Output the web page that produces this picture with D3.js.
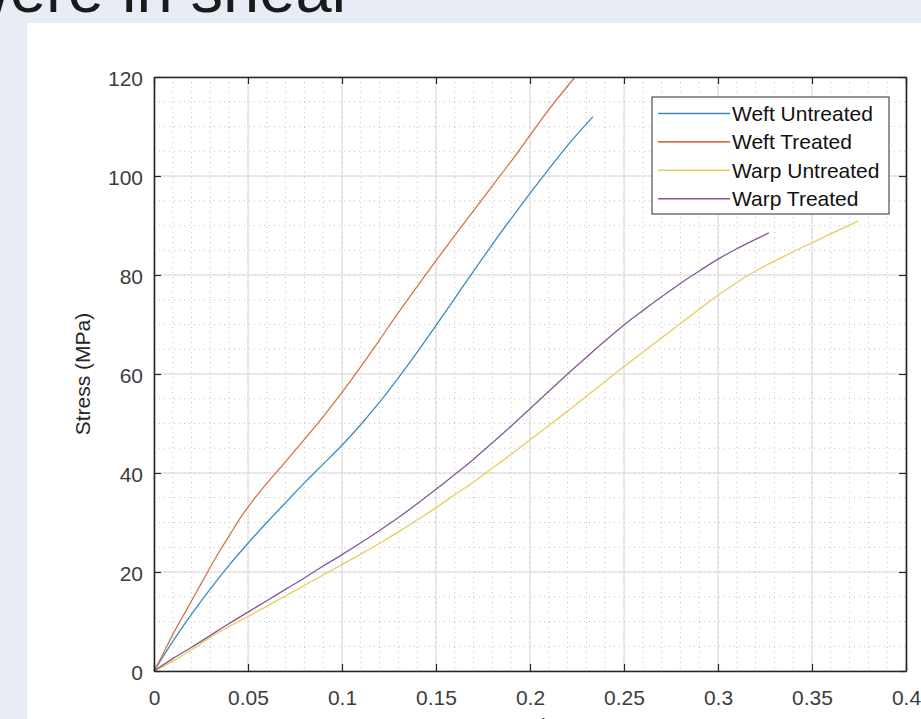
<!DOCTYPE html>
<html>
<head>
<meta charset="utf-8">
<script src="https://cdn.jsdelivr.net/npm/d3@7"></script>
<style>
  html, body { margin: 0; padding: 0; background: #e8ecf5; overflow: hidden; }
  svg { display: block; }
</style>
</head>
<body>
<svg id="chart" width="921" height="719"></svg>
<script>
// tick values
const xTicks = [0, 0.05, 0.1, 0.15, 0.2, 0.25, 0.3, 0.35, 0.4];
const yTicks = [0, 20, 40, 60, 80, 100, 120];
const xMinor = d3.range(0, 0.4001, 0.01);
const yMinor = d3.range(0, 120.01, 5);

// series names (legend order)
const seriesNames = ["Weft Untreated", "Weft Treated", "Warp Untreated", "Warp Treated"];
const seriesColors = ["#3f8bbd", "#d8714a", "#e8cd5a", "#83589a"];

// values: [strain, stress (MPa)]
const weftUntreated = [[0,0],[0.01,6],[0.02,11.5],[0.03,16.6],[0.04,21.4],[0.05,25.8],[0.06,30],[0.07,34],
  [0.08,38],[0.09,41.8],[0.1,45.6],[0.11,49.8],[0.12,54.3],[0.13,59.2],[0.14,64.4],[0.15,69.8],[0.16,75.3],
  [0.17,80.8],[0.18,86.2],[0.19,91.4],[0.2,96.5],[0.21,101.4],[0.22,106.2],[0.2335,112]];
const weftTreated = [[0,0],[0.005,3.6],[0.01,7.4],[0.015,10.8],[0.02,14.2],[0.025,17.6],[0.03,21],[0.035,24.3],
  [0.04,27.3],[0.045,30.4],[0.05,33.1],[0.055,35.6],[0.06,37.9],[0.07,42.3],[0.08,46.8],[0.09,51.4],[0.1,56.3],
  [0.11,61.5],[0.12,66.9],[0.13,72.4],[0.14,77.7],[0.15,82.9],[0.16,88],[0.17,93],[0.18,98],[0.19,103],
  [0.2,108.2],[0.21,113.4],[0.2235,119.8]];
const warpUntreated = [[0,0],[0.01,2],[0.02,4.3],[0.03,6.8],[0.04,9],[0.05,11],[0.06,13.1],[0.07,15.2],
  [0.08,17.3],[0.09,19.4],[0.1,21.5],[0.11,23.6],[0.12,25.8],[0.13,28.1],[0.14,30.5],[0.15,33],[0.16,35.6],
  [0.17,38.2],[0.18,41],[0.19,43.8],[0.2,46.7],[0.21,49.6],[0.22,52.5],[0.23,55.5],[0.24,58.5],[0.25,61.5],
  [0.26,64.4],[0.27,67.3],[0.28,70.2],[0.29,73.1],[0.3,75.9],[0.31,78.5],[0.32,80.8],[0.33,82.8],[0.34,84.7],
  [0.35,86.5],[0.36,88.3],[0.3745,90.9]];
const warpTreated = [[0,0],[0.01,2.5],[0.02,4.8],[0.03,7.2],[0.04,9.6],[0.05,11.9],[0.06,14.2],[0.07,16.5],
  [0.08,18.8],[0.09,21.2],[0.1,23.5],[0.11,25.9],[0.12,28.4],[0.13,31],[0.14,33.8],[0.15,36.7],[0.16,39.7],
  [0.17,42.8],[0.18,46.1],[0.19,49.5],[0.2,53],[0.21,56.5],[0.22,60],[0.23,63.4],[0.24,66.7],[0.25,69.9],
  [0.26,72.8],[0.27,75.6],[0.28,78.3],[0.29,80.8],[0.3,83.2],[0.31,85.3],[0.32,87.2],[0.327,88.5]];

const allSeries = [weftUntreated, weftTreated, warpUntreated, warpTreated];

const svg = d3.select("#chart");
const plotLeft = 154, plotRight = 906, plotTop = 77, plotBottom = 671;

const x = d3.scaleLinear().domain([0, 0.4]).range([plotLeft, plotRight]);
const y = d3.scaleLinear().domain([0, 120]).range([plotBottom, plotTop]);

// slide title, cut by the top edge
svg.append("text")
  .attr("x", -37).attr("y", 12)
  .attr("font-family", "Liberation Sans, Arial, sans-serif")
  .attr("font-size", 65)
  .attr("fill", "#1a1a1a")
  .text("were in shear");

// white panel
svg.append("rect")
  .attr("x", 27).attr("y", 23)
  .attr("width", 921 - 27).attr("height", 719 - 23)
  .attr("fill", "#ffffff");

// minor grid (dotted)
const grid = svg.append("g");
grid.selectAll(".mx").data(xMinor).join("line")
  .attr("x1", d => x(d)).attr("x2", d => x(d))
  .attr("y1", plotTop).attr("y2", plotBottom)
  .attr("stroke", "#c4c4c4").attr("stroke-width", 1)
  .attr("stroke-dasharray", "1,4");
grid.selectAll(".my").data(yMinor).join("line")
  .attr("y1", d => y(d)).attr("y2", d => y(d))
  .attr("x1", plotLeft).attr("x2", plotRight)
  .attr("stroke", "#c4c4c4").attr("stroke-width", 1)
  .attr("stroke-dasharray", "1,4");

// major grid
grid.selectAll(".gx").data(xTicks).join("line")
  .attr("x1", d => x(d)).attr("x2", d => x(d))
  .attr("y1", plotTop).attr("y2", plotBottom)
  .attr("stroke", "#d8d8d8").attr("stroke-width", 1);
grid.selectAll(".gy").data(yTicks).join("line")
  .attr("y1", d => y(d)).attr("y2", d => y(d))
  .attr("x1", plotLeft).attr("x2", plotRight)
  .attr("stroke", "#d8d8d8").attr("stroke-width", 1);

// curves
const line = d3.line()
  .x(d => x(d[0]))
  .y(d => y(d[1]))
  .curve(d3.curveCatmullRom.alpha(0.5));

svg.append("g").selectAll("path")
  .data(allSeries)
  .join("path")
  .attr("d", line)
  .attr("fill", "none")
  .attr("stroke", (d, i) => seriesColors[i])
  .attr("stroke-width", 1.3);

// axes, ticks pointing inward like MATLAB
const fmt = d => String(d);
const font = "Liberation Sans, Arial, sans-serif";

const xAxis = svg.append("g").attr("transform", `translate(0,${plotBottom})`)
  .call(d3.axisBottom(x).tickValues(xTicks).tickFormat(fmt).tickSize(-7).tickSizeOuter(0).tickPadding(19));
const xAxisTop = svg.append("g").attr("transform", `translate(0,${plotTop})`)
  .call(d3.axisTop(x).tickValues(xTicks).tickFormat("").tickSize(-7).tickSizeOuter(0));
const yAxis = svg.append("g").attr("transform", `translate(${plotLeft},0)`)
  .call(d3.axisLeft(y).tickValues(yTicks).tickFormat(fmt).tickSize(-7).tickSizeOuter(0).tickPadding(11));
const yAxisRight = svg.append("g").attr("transform", `translate(${plotRight},0)`)
  .call(d3.axisRight(y).tickValues(yTicks).tickFormat("").tickSize(-7).tickSizeOuter(0));

[xAxis, xAxisTop, yAxis, yAxisRight].forEach(a => {
  a.select(".domain").attr("stroke", "#262626").attr("stroke-width", 1.6);
  a.selectAll(".tick line").attr("stroke", "#262626").attr("stroke-width", 1.2);
  a.selectAll(".tick text")
    .attr("font-family", font).attr("font-size", 21).attr("fill", "#3d3d3d");
});
yAxis.selectAll(".tick text").attr("dy", "0.42em");

// axis labels
svg.append("text")
  .attr("transform", `translate(90,${(plotTop + plotBottom) / 2}) rotate(-90)`)
  .attr("text-anchor", "middle")
  .attr("font-family", font).attr("font-size", 21).attr("fill", "#262626")
  .text("Stress (MPa)");

svg.append("text")
  .attr("x", (plotLeft + plotRight) / 2).attr("y", 733)
  .attr("text-anchor", "middle")
  .attr("font-family", font).attr("font-size", 21).attr("fill", "#262626")
  .text("Strain");

// legend
const legend = svg.append("g").attr("transform", "translate(652,97)");
legend.append("rect")
  .attr("width", 237).attr("height", 117)
  .attr("fill", "#ffffff").attr("stroke", "#2a2a2a").attr("stroke-width", 1);
seriesNames.forEach((name, i) => {
  const row = legend.append("g").attr("transform", `translate(0,${16.5 + i * 28.4})`);
  row.append("line")
    .attr("x1", 6).attr("x2", 78).attr("y1", 0).attr("y2", 0)
    .attr("stroke", seriesColors[i]).attr("stroke-width", 1.6);
  row.append("text")
    .attr("x", 80).attr("y", 7.5)
    .attr("font-family", font).attr("font-size", 21).attr("fill", "#111")
    .text(name);
});
</script>
</body>
</html>
